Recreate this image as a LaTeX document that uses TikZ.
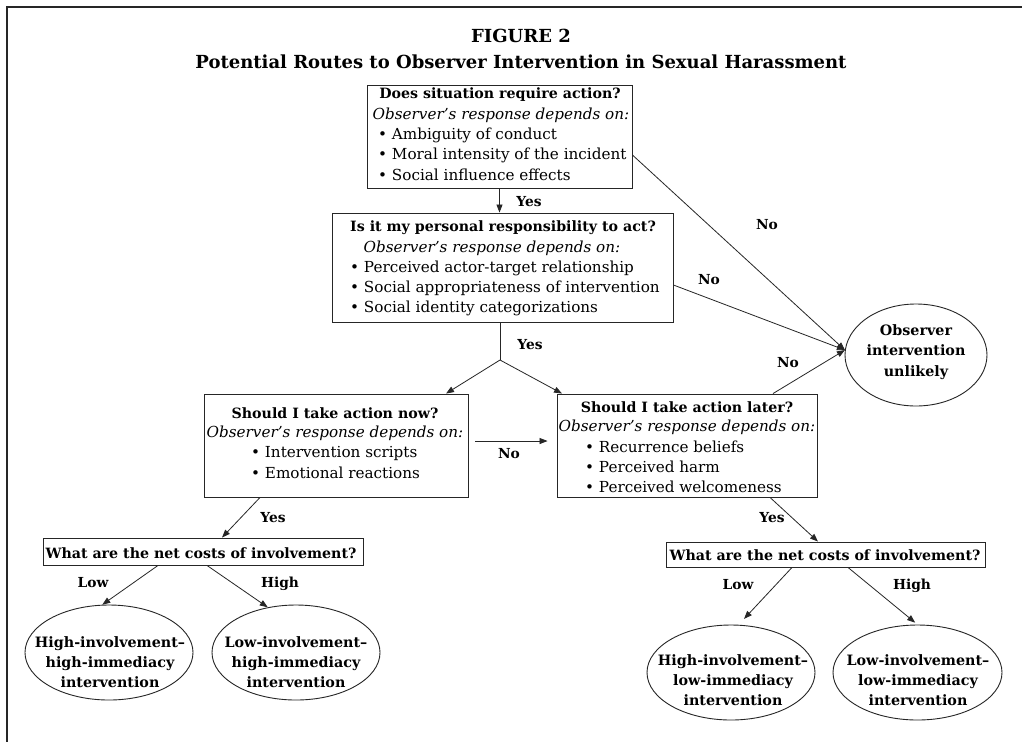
\documentclass[tikz,border=0pt]{standalone}
\usepackage{fontspec}
\setmainfont{DejaVu Serif}
\usetikzlibrary{arrows.meta,shapes.geometric,calc}
\begin{document}
\begin{tikzpicture}[x=1pt,y=-1pt,
  box/.style={draw=black!85,line width=0.9pt,rectangle,inner sep=0pt},
  oval/.style={draw=black!85,line width=0.9pt,ellipse,inner sep=0pt},
  conn/.style={draw=black!85,line width=0.8pt},
  arr/.style={conn,-{Triangle[length=8pt,width=6pt]}},
  lbl/.style={font=\fontsize{13.8}{15}\selectfont\bfseries,inner sep=0pt},
  ttl/.style={font=\fontsize{14.2}{16}\selectfont\bfseries,inner sep=0pt},
  itl/.style={font=\fontsize{15.2}{17}\selectfont\itshape,inner sep=0pt},
  bul/.style={font=\fontsize{15.2}{17}\selectfont,inner sep=0pt,anchor=west},
  otx/.style={font=\fontsize{14.3}{20.3}\selectfont\bfseries,align=center,inner sep=0pt},
  head/.style={font=\fontsize{18}{22}\selectfont\bfseries,inner sep=0pt},
]
\useasboundingbox (0,0) rectangle (1022,742);
\fill[white] (0,0) rectangle (1022,742);
% frame
\draw[line width=1.6pt,black!85] (1022,7) -- (7,7) -- (7,742);

% titles
\node[head] (fig) at (521,36) {FIGURE 2};
\node[head] (sub) at (521,62) {Potential Routes to Observer Intervention in Sexual Harassment};

% box 1
\node[box,minimum width=265pt,minimum height=103pt] (b1) at (499.5,136.5) {};
\node[ttl] (b1t) at (500,95) {Does situation require action?};
\node[itl] (b1i) at (501,115) {Observer’s response depends on:};
\node[bul] (b1a) at (378,135) {• Ambiguity of conduct};
\node[bul] (b1b) at (378,155) {• Moral intensity of the incident};
\node[bul] (b1c) at (378,175) {• Social influence effects};

% box 2
\node[box,minimum width=341pt,minimum height=109pt] (b2) at (502.5,267.5) {};
\node[ttl] (b2t) at (503,228) {Is it my personal responsibility to act?};
\node[itl] (b2i) at (492,248) {Observer’s response depends on:};
\node[bul] (b2a) at (350,268) {• Perceived actor-target relationship};
\node[bul] (b2b) at (350,288) {• Social appropriateness of intervention};
\node[bul] (b2c) at (350,308) {• Social identity categorizations};

% box 3
\node[box,minimum width=264pt,minimum height=103pt] (b3) at (336,445.5) {};
\node[ttl] (b3t) at (335,413) {Should I take action now?};
\node[itl] (b3i) at (335,433) {Observer’s response depends on:};
\node[bul] (b3a) at (251,453) {• Intervention scripts};
\node[bul] (b3b) at (251,473) {• Emotional reactions};

% box 4
\node[box,minimum width=260pt,minimum height=103pt] (b4) at (687,445.5) {};
\node[ttl] (b4t) at (687,407) {Should I take action later?};
\node[itl] (b4i) at (687,427) {Observer’s response depends on:};
\node[bul] (b4a) at (585,447) {• Recurrence beliefs};
\node[bul] (b4b) at (585,467) {• Perceived harm};
\node[bul] (b4c) at (585,487) {• Perceived welcomeness};

% observer ellipse
\node[oval,minimum width=142pt,minimum height=102pt] (obs) at (916,355) {};
\node[otx] (obst) at (916,352) {Observer\\intervention\\unlikely};

% net cost boxes
\node[box,minimum width=320pt,minimum height=27pt] (nc1) at (203,551.5) {};
\node[ttl] (nc1t) at (201,553) {What are the net costs of involvement?};
\node[box,minimum width=319pt,minimum height=25pt] (nc2) at (825.5,554.5) {};
\node[ttl] (nc2t) at (825,555) {What are the net costs of involvement?};

% outcome ellipses
\node[oval,minimum width=168pt,minimum height=95pt] (e1) at (109,652.5) {};
\node[otx] (e1t) at (110,662) {High-involvement–\\high-immediacy\\intervention};
\node[oval,minimum width=168pt,minimum height=95pt] (e2) at (296,652.5) {};
\node[otx] (e2t) at (296,662) {Low-involvement–\\high-immediacy\\intervention};
\node[oval,minimum width=168pt,minimum height=95pt] (e3) at (731,672.5) {};
\node[otx] (e3t) at (733,680) {High-involvement–\\low-immediacy\\intervention};
\node[oval,minimum width=169pt,minimum height=95pt] (e4) at (917.5,672.5) {};
\node[otx] (e4t) at (918,680) {Low-involvement–\\low-immediacy\\intervention};

% connectors
\draw[arr] (b1.south) -- (b1.south |- b2.north);
\node[lbl] (y1) at (529,202) {Yes};

\coordinate (j) at (500,360);
\draw[conn] ([xshift=-2.5pt]b2.south) -- (j);
\draw[arr] (j) -- ([xshift=110pt]b3.north);
\draw[arr] (j) -- ([xshift=-125pt]b4.north);
\node[lbl] (y2) at (530,345) {Yes};

\draw[arr] ([yshift=-18.5pt]b1.east) -- (obs.176);
\node[lbl] (n1) at (767,225) {No};
\draw[arr] ([yshift=-17.5pt]b2.east) -- (obs.176);
\node[lbl] (n2) at (709,280) {No};
\draw[arr] ([xshift=86pt]b4.north) -- (obs.176);
\node[lbl] (n3) at (788,363) {No};

\draw[arr,shorten <=7pt,shorten >=9pt] ([yshift=4.5pt]b3.east) -- ([yshift=4.5pt]b4.west);
\node[lbl] (n4) at (509,454) {No};

\draw[arr] ([xshift=-76pt]b3.south) -- ([xshift=19pt]nc1.north);
\node[lbl] (y3) at (273,518) {Yes};
\draw[arr] ([xshift=-45pt]nc1.south) -- (e1.98);
\node[lbl] (l1) at (93,583) {Low};
\draw[arr] ([xshift=4pt]nc1.south) -- (e2.122);
\node[lbl] (h1) at (280,584) {High};

\draw[arr] ([xshift=83pt]b4.south) -- ([xshift=-7.5pt]nc2.north);
\node[lbl] (y4) at (772,518) {Yes};
\draw[arr,shorten >=8pt] ([xshift=-33.5pt]nc2.south) -- (e3.81);
\node[lbl] (l2) at (738,585) {Low};
\draw[arr,shorten >=3pt] ([xshift=22.5pt]nc2.south) -- (e4.north);
\node[lbl] (h2) at (912,586) {High};
\end{tikzpicture}
\end{document}
